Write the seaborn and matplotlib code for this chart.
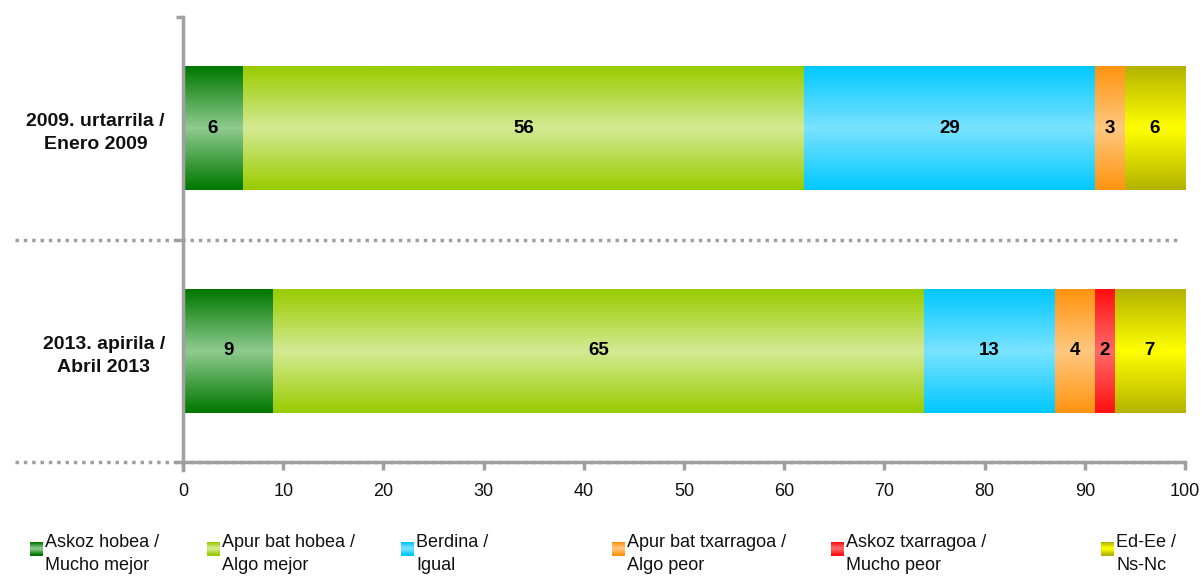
import numpy as np
import pandas as pd
import matplotlib
matplotlib.use("Agg")
import matplotlib.pyplot as plt
import seaborn as sns
from matplotlib.patches import Rectangle
from matplotlib.legend_handler import HandlerBase
from matplotlib.colors import to_rgb

# ---- data ----
categories = ["2009. urtarrila /\nEnero 2009", "2013. apirila /\nAbril 2013"]
series = ["Askoz hobea /\nMucho mejor", "Apur bat hobea /\nAlgo mejor", "Berdina /\nIgual",
          "Apur bat txarragoa /\nAlgo peor", "Askoz txarragoa /\nMucho peor", "Ed-Ee /\nNs-Nc"]
values_2009 = [6, 56, 29, 3, 0, 6]
values_2013 = [9, 65, 13, 4, 2, 7]
x_ticks = [0, 10, 20, 30, 40, 50, 60, 70, 80, 90, 100]

# gradient colours: (edge, centre)
edge_colors = ["#007800", "#99CC00", "#00C8FF", "#FF9410", "#FF1010", "#B4B400"]
center_colors = ["#8FCB8F", "#D4EA94", "#7AE3FF", "#FFC880", "#FF6A6A", "#FFFF00"]

sns.set_theme(style="white")
plt.rcParams["font.family"] = ["Liberation Sans", "DejaVu Sans"]

fig = plt.figure(figsize=(12.04, 5.76), dpi=100)
ax = fig.add_axes([183 / 1204, 1 - 462 / 576, 1002 / 1204, 445 / 576])

data = np.array([values_2009, values_2013], dtype=float)
lefts = np.zeros(len(categories))
bar_h = 0.556


def gradient_img(edge, center, n=64):
    e = np.array(to_rgb(edge))
    c = np.array(to_rgb(center))
    t = np.abs(np.linspace(-1, 1, n))[:, None]
    img = c * (1 - t) + e * t
    return img[:, None, :]


for j, name in enumerate(series):
    df = pd.DataFrame({"cat": categories, "val": data[:, j], "left": lefts.copy()})
    n_before = len(ax.patches)
    sns.barplot(data=df, x="val", y="cat", orient="h", left=df["left"].values,
                width=bar_h, color=edge_colors[j], ax=ax, linewidth=0, zorder=2)
    new_patches = ax.patches[n_before:]
    for i, p in enumerate(new_patches):
        v = data[i, j]
        x0, y0 = p.get_x(), p.get_y()
        w, h = p.get_width(), p.get_height()
        p.set_facecolor("none")
        if v <= 0:
            continue
        im = ax.imshow(gradient_img(edge_colors[j], center_colors[j]),
                       extent=[x0, x0 + w, y0 + h, y0], aspect="auto",
                       interpolation="bilinear", zorder=2)
        im.set_clip_path(p)
        ax.text(x0 + w / 2, y0 + h / 2, f"{int(v)}", ha="center", va="center",
                fontsize=13.5, fontweight="bold", color="black", zorder=3)
    lefts = lefts + data[:, j]

ax.set_xlim(0, 100)
ax.set_ylim(1.5, -0.5)
ax.set_xticks(x_ticks)
ax.set_xticklabels([str(t) for t in x_ticks])
ax.set_xlabel("")
ax.set_ylabel("")

grey = "#A0A0A0"
for s in ["top", "right"]:
    ax.spines[s].set_visible(False)
for s in ["left", "bottom"]:
    ax.spines[s].set_color(grey)
    ax.spines[s].set_linewidth(2.5)
ax.spines["left"].set_bounds(-0.5, 1.535)

ax.tick_params(axis="x", which="major", direction="out", length=6, width=2.5,
               color=grey, labelsize=13, labelcolor="#111111", pad=9, bottom=True)
ax.tick_params(axis="y", which="major", length=0, labelsize=14, pad=13, left=False)
ax.set_yticks([-0.5, 0.5, 1.5], minor=True)
ax.tick_params(axis="y", which="minor", direction="out", length=5, width=2.5, color=grey, left=True)
for lab in ax.get_yticklabels():
    lab.set_fontweight("bold")
    lab.set_multialignment("center")
    lab.set_linespacing(1.45)
    lab.set_color("#111111")

# dotted separators extending into the label area
for yv in [0.5, 1.5]:
    ax.plot([-0.168, 0.995], [yv, yv], transform=ax.get_yaxis_transform(),
            color=grey, linestyle=(0, (1, 1.4)), linewidth=2.5, clip_on=False, zorder=1)


class GradientHandler(HandlerBase):
    def __init__(self, edge, center):
        super().__init__()
        self.edge = edge
        self.center = center

    def create_artists(self, legend, orig_handle, xdescent, ydescent, width, height,
                       fontsize, trans):
        size = 9.5
        x0 = -xdescent
        y0 = -ydescent + height - size + 3
        n = 12
        img = gradient_img(self.edge, self.center, n)[:, 0, :]
        arts = []
        for k in range(n):
            r = Rectangle((x0, y0 + size - (k + 1) * size / n), size, size / n + 0.3,
                          facecolor=img[k], edgecolor="none", transform=trans)
            arts.append(r)
        return arts


legend_x = [30, 207, 401, 612, 831, 1101]
for j, name in enumerate(series):
    h = Rectangle((0, 0), 1, 1)
    leg = fig.legend([h], [name], loc="upper left",
                     bbox_to_anchor=(legend_x[j] / 1204, 1 - 534 / 576),
                     frameon=False, fontsize=13, handlelength=0.73, handleheight=1.0,
                     handletextpad=0.12, borderpad=0, borderaxespad=0,
                     handler_map={h: GradientHandler(edge_colors[j], center_colors[j])})
    for t in leg.get_texts():
        t.set_linespacing(1.5)
        t.set_color("#111111")

fig.savefig("out.png", dpi=100)
